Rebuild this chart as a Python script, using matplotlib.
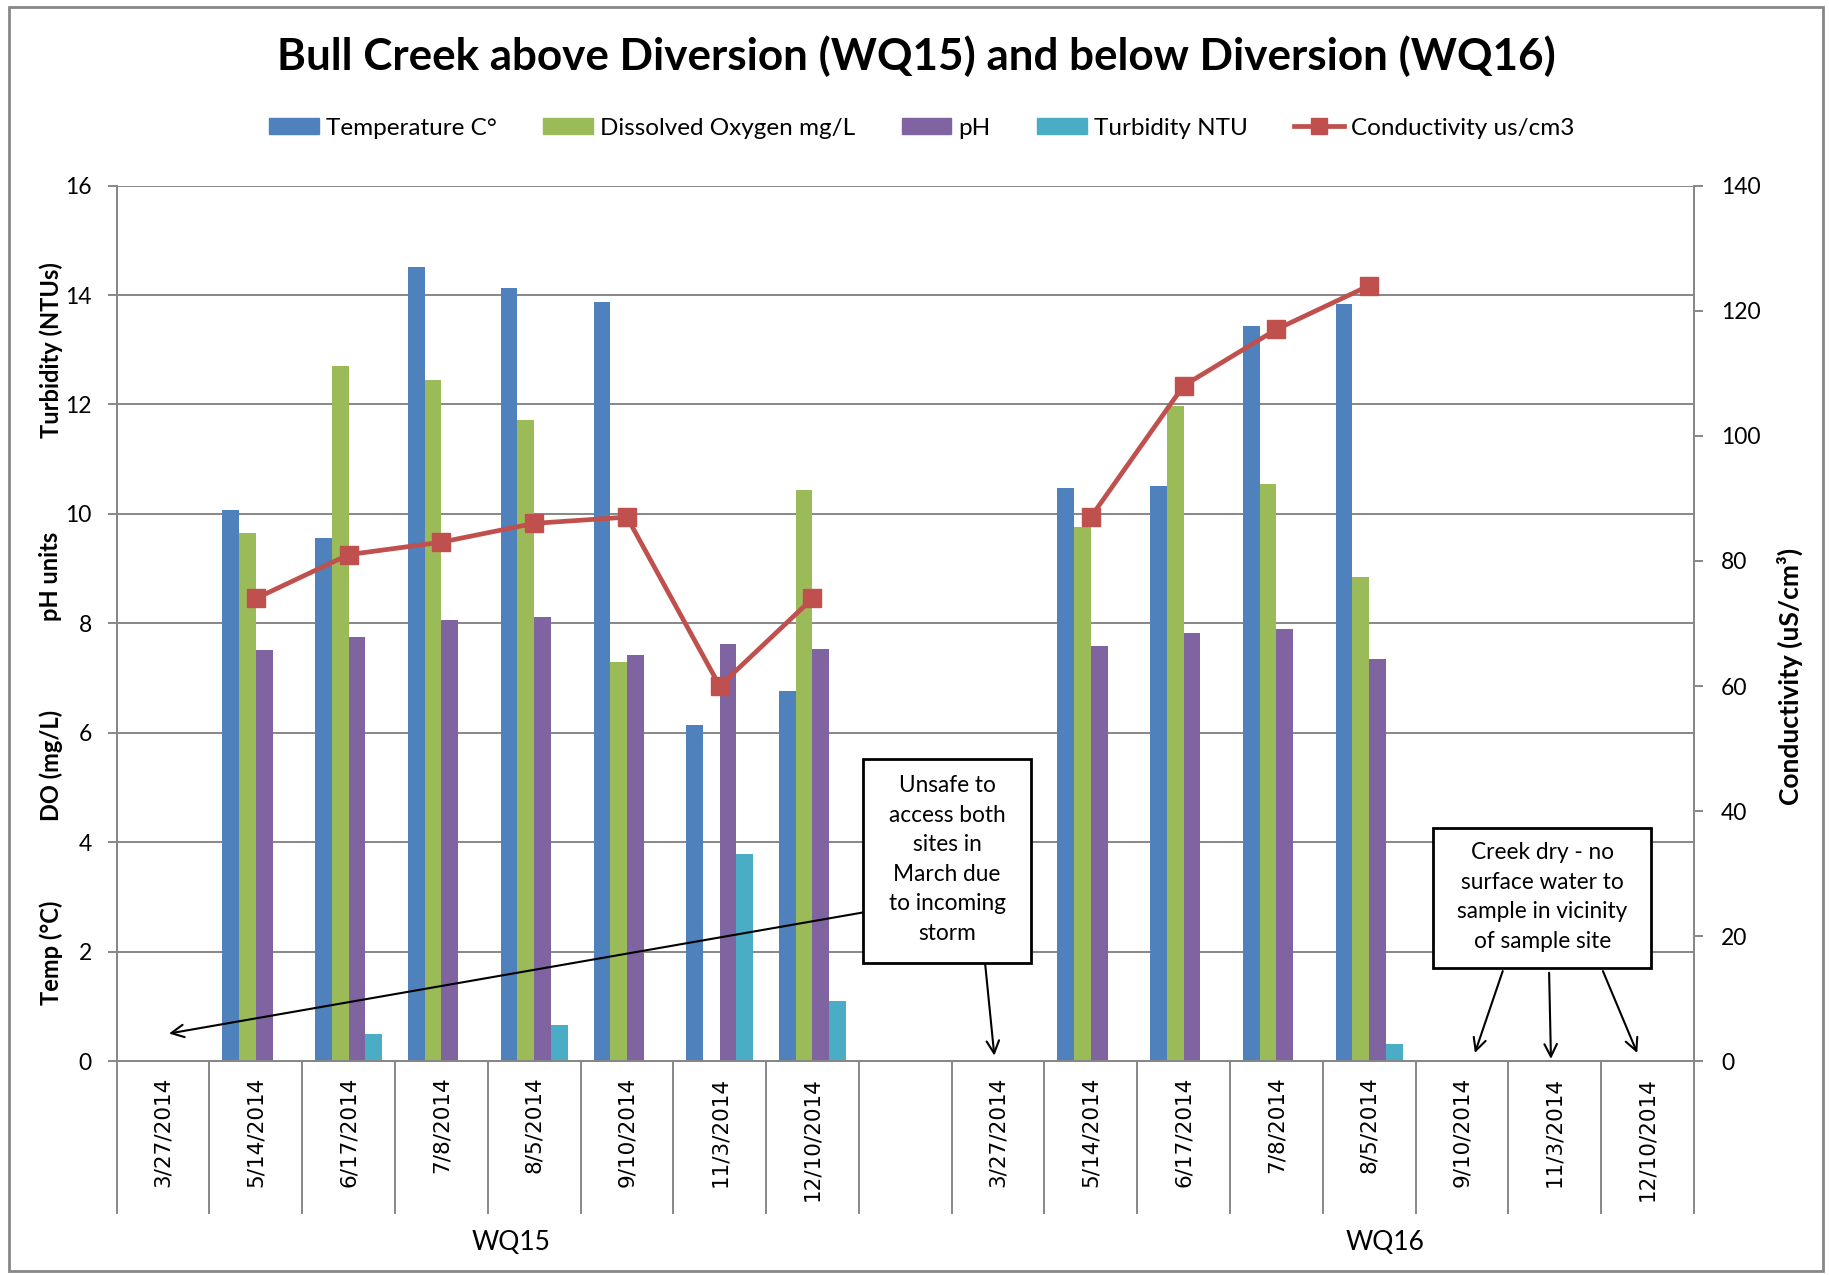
import numpy as np
import matplotlib
matplotlib.use("Agg")
import matplotlib.pyplot as plt
from matplotlib.patches import Rectangle
from matplotlib.lines import Line2D
import matplotlib.transforms as mtransforms

# ---- data -------------------------------------------------------------
dates = ["3/27/2014", "5/14/2014", "6/17/2014", "7/8/2014",
         "8/5/2014", "9/10/2014", "11/3/2014", "12/10/2014"]
sites = ["WQ15", "WQ16"]
categories = dates + [""] + dates

nan = np.nan
temperature = [nan, 10.08, 9.57, 14.51, 14.12, 13.87, 6.14, 6.77, nan,
               nan, 10.48, 10.52, 13.44, 13.83, nan, nan, nan]
dissolved_oxygen = [nan, 9.65, 12.70, 12.44, 11.72, 7.29, nan, 10.44, nan,
                    nan, 9.76, 11.97, 10.55, 8.84, nan, nan, nan]
ph = [nan, 7.52, 7.75, 8.07, 8.12, 7.43, 7.63, 7.54, nan,
      nan, 7.58, 7.82, 7.90, 7.35, nan, nan, nan]
turbidity = [nan, nan, 0.51, nan, 0.66, nan, 3.79, 1.11, nan,
             nan, nan, nan, nan, 0.32, nan, nan, nan]
conductivity = [nan, 74, 81, 83, 86, 87, 60, 74, nan,
                nan, 87, 108, 117, 124, nan, nan, nan]

series_names = ["Temperature C°", "Dissolved Oxygen mg/L", "pH", "Turbidity NTU"]
cond_name = "Conductivity us/cm3"

# ---- style ------------------------------------------------------------
colors = ["#4F81BD", "#9BBB59", "#8064A2", "#4BACC6"]
cond_color = "#C0504D"
grid_gray = "#878787"
label_font = "Lato"
tick_font = "DejaVu Sans"

fig = plt.figure(figsize=(18.29, 12.75), dpi=100)
ax = fig.add_axes([0.0638, 0.1675, 0.8623, 0.6870])
ax2 = ax.twinx()

x = np.arange(len(categories))
w = 0.18
for k, (vals, col, name) in enumerate(zip(
        [temperature, dissolved_oxygen, ph, turbidity], colors, series_names)):
    ax.bar(x + (k - 1.5) * w, vals, width=w, color=col, label=name,
           edgecolor="none", zorder=2)

ax2.plot(x, conductivity, color=cond_color, lw=3.4, marker="s",
         markersize=13.5, zorder=3, label=cond_name)

# ---- axes -------------------------------------------------------------
ax.set_xlim(-0.5, len(categories) - 0.5)
ax.set_ylim(0, 16)
ax.set_yticks(np.arange(0, 17, 2))
ax2.set_ylim(0, 140)
ax2.set_yticks(np.arange(0, 141, 20))

ax.set_axisbelow(True)
ax.yaxis.grid(True, color=grid_gray, lw=1.4)
for a in (ax, ax2):
    a.spines["top"].set_visible(False)
    for s in ("left", "right", "bottom"):
        a.spines[s].set_color(grid_gray)
        a.spines[s].set_linewidth(1.4)
ax.tick_params(axis="y", direction="out", length=6.5, width=1.4,
               color=grid_gray, pad=11.5, labelsize=16.5)
ax2.tick_params(axis="y", direction="out", length=6.5, width=1.4,
                color=grid_gray, pad=13, labelsize=16.5)
for lab in ax.get_yticklabels() + ax2.get_yticklabels():
    lab.set_fontfamily(label_font)

ax.set_xticks(x)
ax.set_xticklabels(categories, rotation=90, fontsize=15.5,
                   fontfamily=tick_font)
ax.tick_params(axis="x", length=0, pad=11)

# category separators running through the date labels
blend = mtransforms.blended_transform_factory(ax.transData, ax.transAxes)
for b in np.arange(-0.5, len(categories), 1.0):
    ax.plot([b, b], [0, -0.173], transform=blend, color=grid_gray,
            lw=1.4, clip_on=False, zorder=1)

# site group labels
for xc, site in zip([3.75, 13.17], sites):
    ax.text(xc, -0.207, site, transform=blend, ha="center", va="center",
            fontsize=19, fontfamily=label_font)

# stacked left-axis labels
left_labels = [("Turbidity (NTUs)", 350), ("pH units", 576),
               ("DO (mg/L)", 765), ("Temp (°C)", 953)]
for txt, ypx in left_labels:
    fig.text(51 / 1829, 1 - ypx / 1275, txt, rotation=90, ha="center",
             va="center", fontsize=17, fontweight="bold",
             fontfamily=label_font)
fig.text(1790 / 1829, 1 - 676 / 1275, "Conductivity (uS/cm³)",
         rotation=90, ha="center", va="center", fontsize=19,
         fontweight="bold", fontfamily=label_font)

# title
fig.text(0.5008, 0.956, "Bull Creek above Diversion (WQ15) and below Diversion (WQ16)",
         ha="center", va="center", fontsize=31.65, fontweight="bold",
         fontfamily=label_font)

# legend
handles = [Rectangle((0, 0), 1, 1, color=c) for c in colors]
handles.append(Line2D([], [], color=cond_color, lw=3.4, marker="s",
                      markersize=11))
leg = fig.legend(handles, series_names + [cond_name], loc="center",
                 bbox_to_anchor=(0.504, 0.8996), ncol=5, frameon=False,
                 prop={"family": label_font, "size": 17.5},
                 handlelength=2.05, handleheight=0.6, handletextpad=0.3,
                 columnspacing=1.9)

# ---- annotations ------------------------------------------------------
box_kw = dict(facecolor="white", edgecolor="black", lw=2, zorder=5)
arrow_kw = dict(arrowstyle="->,head_length=0.9,head_width=0.45",
                color="black", lw=1.5, shrinkA=0, shrinkB=0)

ax.add_patch(Rectangle((7.54, 1.80), 9.36 - 7.54, 5.53 - 1.80, **box_kw))
ax.text((7.54 + 9.36) / 2, (1.80 + 5.53) / 2 + 0.02,
        "Unsafe to\naccess both\nsites in\nMarch due\nto incoming\nstorm",
        ha="center", va="center", fontsize=16.3, fontfamily=label_font,
        linespacing=1.5, zorder=6)
ax.annotate("", xy=(0.064, 0.51), xytext=(7.54, 2.72),
            arrowprops=arrow_kw, zorder=4)
ax.annotate("", xy=(8.96, 0.106), xytext=(8.86, 1.80),
            arrowprops=arrow_kw, zorder=4)

ax.add_patch(Rectangle((13.69, 1.71), 16.04 - 13.69, 4.26 - 1.71, **box_kw))
ax.text((13.69 + 16.04) / 2, (1.71 + 4.26) / 2 + 0.02,
        "Creek dry - no\nsurface water to\nsample in vicinity\nof sample site",
        ha="center", va="center", fontsize=16.3, fontfamily=label_font,
        linespacing=1.5, zorder=6)
for (x0, y0), (x1, y1) in [((14.44, 1.65), (14.14, 0.155)),
                           ((14.94, 1.62), (14.96, 0.046)),
                           ((15.52, 1.65), (15.89, 0.155))]:
    ax.annotate("", xy=(x1, y1), xytext=(x0, y0), arrowprops=arrow_kw,
                zorder=4)

# chart border
fig.patches.append(Rectangle((9 / 1829, 4 / 1275), (1823 - 9) / 1829,
                             (1268 - 4) / 1275, transform=fig.transFigure,
                             fill=False, edgecolor=grid_gray, lw=2))

fig.savefig("out.png", dpi=100)
